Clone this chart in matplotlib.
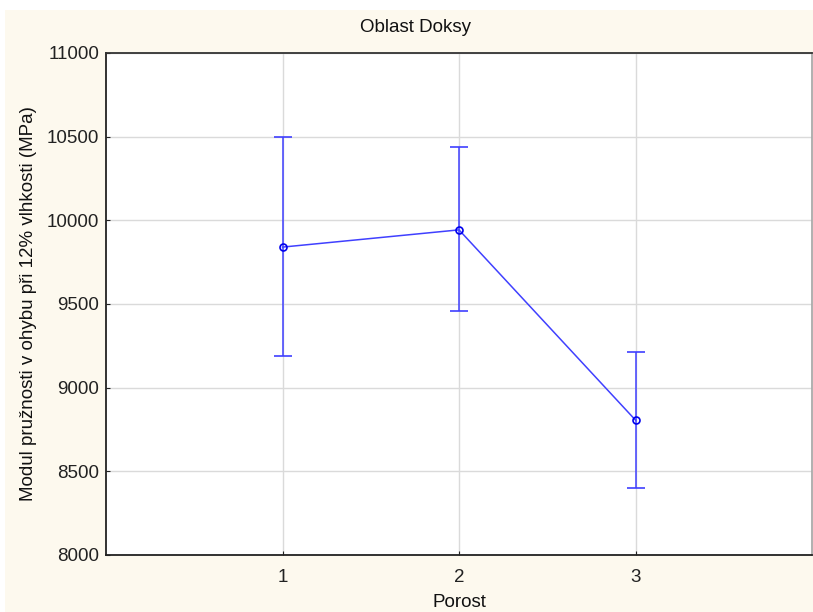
import matplotlib
matplotlib.use('Agg')
import matplotlib.pyplot as plt
from matplotlib.patches import Rectangle
import numpy as np

plt.rcParams['font.family'] = ['Liberation Sans', 'DejaVu Sans']

porost = [1, 2, 3]
modul = [9840, 9943, 8806]
horni = [10497, 10440, 9212]
dolni = [9192, 9456, 8400]

yerr = [np.array(modul) - np.array(dolni), np.array(horni) - np.array(modul)]

fig = plt.figure(figsize=(8.13, 6.12), dpi=100)
fig.patch.set_facecolor('white')
# cream panel behind the plot
fig.patches.append(Rectangle((5 / 813, 0), 1, 1 - 10 / 612, transform=fig.transFigure,
                             facecolor='#fdf9ee', edgecolor='none', zorder=-10))

ax = fig.add_axes([106 / 813, 57 / 612, 706 / 813, 502 / 612])
ax.set_facecolor('white')

blue = '#4040ff'
ax.errorbar(porost, modul, yerr=yerr, color=blue, lw=1.1, elinewidth=1.1,
            capsize=6.5, capthick=1.1, marker='o', ms=5, mfc='none',
            mec='#0000ee', mew=1.2, zorder=3)

ax.set_xlim(0, 4)
ax.set_ylim(8000, 11000)
ax.set_xticks([1, 2, 3])
ax.set_yticks(np.arange(8000, 11001, 500))
ax.grid(True, color='#dadada', lw=1)
ax.set_axisbelow(True)

fs = 13.5
ax.tick_params(direction='in', length=3, labelsize=fs, colors='#222222',
               pad=5)
ax.tick_params(axis='x', pad=10)

for s in ['left', 'bottom']:
    ax.spines[s].set_color('#222222')
    ax.spines[s].set_linewidth(1.3)
ax.spines['top'].set_color('#333333')
ax.spines['top'].set_linewidth(1.3)
ax.spines['right'].set_color('#aaaaaa')
ax.spines['right'].set_linewidth(1.3)

fig.text(416 / 813, 1 - 27 / 612, 'Oblast Doksy', fontsize=fs, color='#111111',
         ha='center', va='center')
ax.set_xlabel('Porost', fontsize=fs, labelpad=6, color='#111111')
ax.set_ylabel('Modul pružnosti v ohybu při 12% vlhkosti (MPa)', fontsize=fs,
              labelpad=7, color='#111111')

fig.savefig('out.png', dpi=100, facecolor=fig.get_facecolor())
